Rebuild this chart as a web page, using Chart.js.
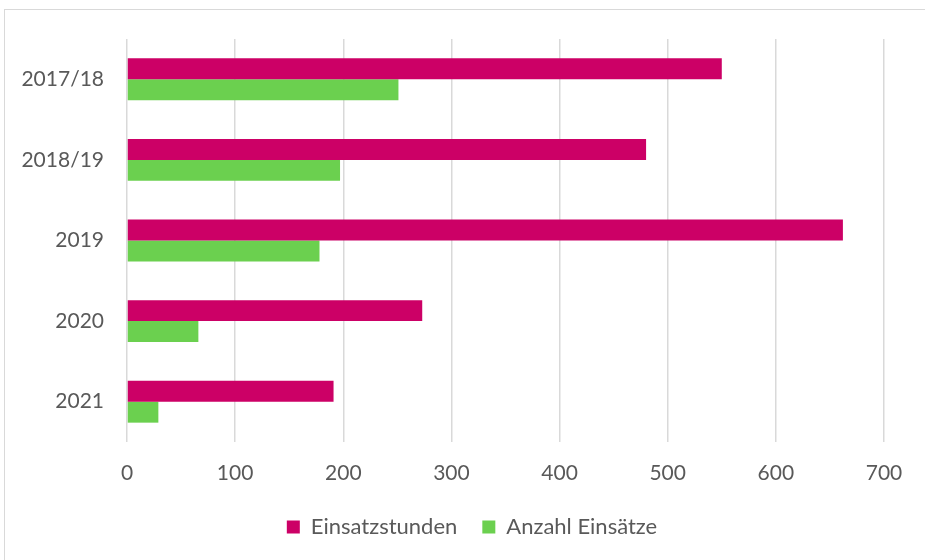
<!DOCTYPE html>
<html>
<head>
<meta charset="utf-8">
<script src="https://cdn.jsdelivr.net/npm/chart.js@4/dist/chart.umd.min.js"></script>
<style>
  html, body { margin: 0; padding: 0; background: #fff; overflow: hidden; }
  .wrap { position: relative; width: 925px; height: 560px; }
  .frame {
    position: absolute; left: 4px; top: 9px; width: 960px; height: 600px;
    border: 1.5px solid #d9d9d9; box-sizing: border-box;
  }
  canvas { position: absolute; left: 0; top: 0; }
</style>
</head>
<body>
<div class="wrap">
  <div class="frame"></div>
  <canvas id="myChart" width="925" height="560"></canvas>
</div>
<script>
  // data
  const seasons = ['2017/18', '2018/19', '2019', '2020', '2021'];
  const einsatzstunden = [550, 480, 662, 273, 191];
  const anzahlEinsaetze = [251, 197, 178, 66, 29];
  const xTicks = [0, 100, 200, 300, 400, 500, 600, 700];

  const textColor = '#595959';
  const gridColor = '#d9d9d9';
  const fontFamily = 'Lato, "Open Sans", sans-serif';

  Chart.defaults.font.family = fontFamily;
  Chart.defaults.color = textColor;

  // legend sits a bit right of the canvas centre in the original
  const legendShift = {
    id: 'legendShift',
    afterLayout: (chart) => {
      chart.legend.left += 20;
      chart.legend.right += 20;
    }
  };

  const ctx = document.getElementById('myChart').getContext('2d');
  // eslint-disable-next-line no-unused-vars
  const chart = new Chart(ctx, {
    type: 'bar',
    data: {
      labels: seasons,
      datasets: [{
        label: 'Einsatzstunden',
        backgroundColor: '#cc0066',
        borderWidth: 0,
        data: einsatzstunden,
      },
      {
        label: 'Anzahl Einsätze',
        backgroundColor: '#6bd04f',
        borderWidth: 0,
        data: anzahlEinsaetze,
      }]
    },
    options: {
      indexAxis: 'y',
      responsive: false,
      animation: false,
      datasets: {
        bar: { categoryPercentage: 0.52, barPercentage: 1 }
      },
      layout: {
        padding: { left: 20, right: 41, top: 39, bottom: 12 }
      },
      scales: {
        x: {
          min: xTicks[0],
          max: xTicks[xTicks.length - 1],
          afterBuildTicks: (scale) => {
            scale.ticks = xTicks.map(v => ({ value: v }));
          },
          afterFit: (scale) => { scale.height = 49; },
          grid: { color: gridColor, lineWidth: 1.5, drawTicks: false },
          border: { display: false },
          ticks: { padding: 19, font: { size: 21 }, color: textColor }
        },
        y: {
          afterFit: (scale) => { scale.width = 107; },
          grid: { display: false, drawTicks: false },
          border: { display: false },
          ticks: { padding: 23, font: { size: 21 }, color: textColor }
        }
      },
      plugins: {
        tooltip: { enabled: false },
        legend: {
          position: 'bottom',
          labels: {
            boxWidth: 13,
            boxHeight: 13,
            padding: 25,
            font: { size: 22 },
            color: textColor
          }
        }
      }
    },
    plugins: [legendShift]
  });
</script>
</body>
</html>
